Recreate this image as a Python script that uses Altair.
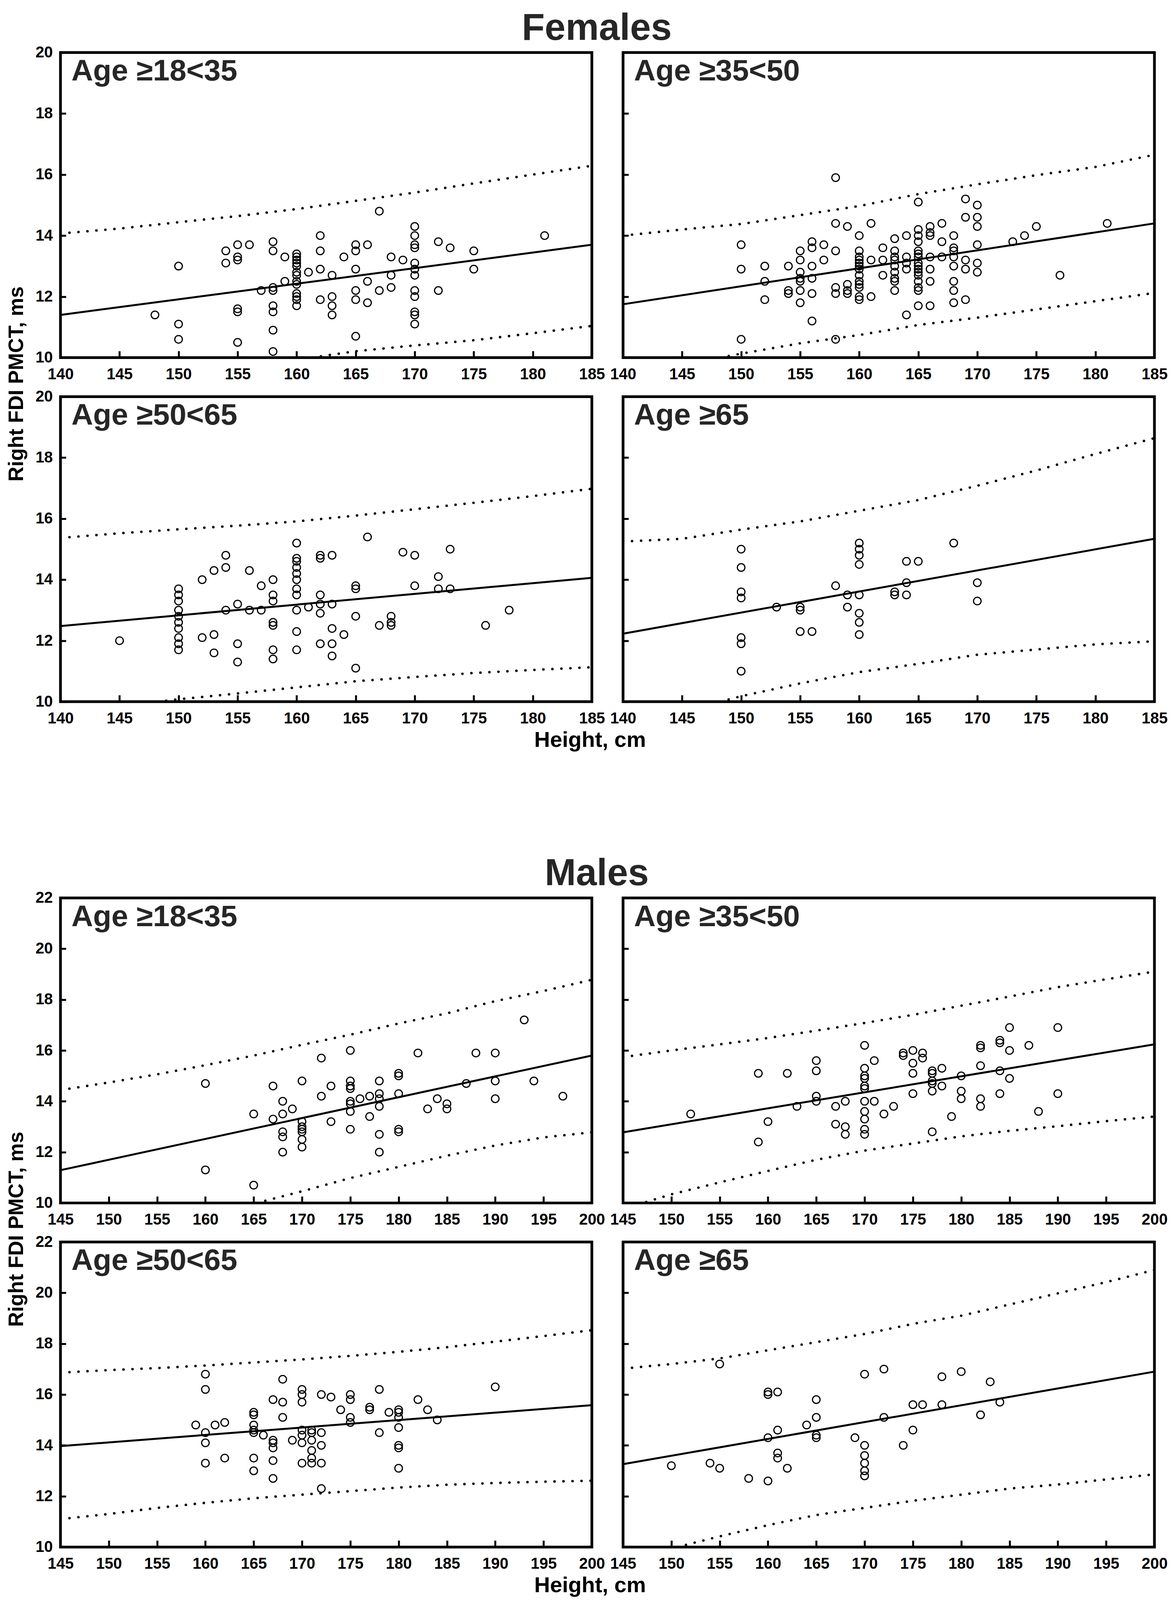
import altair as alt
import pandas as pd

FONT = "Liberation Sans"
INK = "#262626"
W, H = 1362, 782

LABELS = ["Age \u226518<35", "Age \u226535<50", "Age \u226550<65", "Age \u226565"]
F_X_TICKS = list(range(140, 186, 5))
F_Y_TICKS = [10, 12, 14, 16, 18, 20]
M_X_TICKS = list(range(145, 201, 5))
M_Y_TICKS = [10, 12, 14, 16, 18, 20, 22]
F_XDOM, F_YDOM = [140, 185], [10, 20]
M_XDOM, M_YDOM = [145, 200], [10, 22]

# ---------------- Females: observed points, height -> PMCT values ----------------
F1 = {148: [11.4], 150: [13.0, 11.1, 10.6], 154: [13.5, 13.1],
      155: [13.7, 13.3, 13.2, 11.6, 11.5, 10.5], 156: [13.7], 157: [12.2],
      158: [13.8, 13.5, 12.3, 12.2, 11.7, 11.5, 10.9, 10.2], 159: [13.3, 12.5],
      160: [13.4, 13.3, 13.2, 13.1, 13.0, 12.8, 12.7, 12.5, 12.4, 12.1, 12.0, 11.9, 11.7],
      161: [12.8], 162: [14.0, 13.5, 12.9, 11.9], 163: [12.7, 12.0, 11.7, 11.4],
      164: [13.3], 165: [13.7, 13.5, 12.9, 12.2, 11.9, 10.7], 166: [13.7, 12.5, 11.8],
      167: [14.8, 12.2], 168: [13.3, 12.7, 12.3], 169: [13.2],
      170: [14.3, 14.0, 13.7, 13.6, 13.1, 12.9, 12.7, 12.2, 12.0, 11.5, 11.4, 11.1],
      172: [13.8, 12.2], 173: [13.6], 175: [13.5, 12.9], 181: [14.0]}
F2 = {150: [13.7, 12.9, 10.6], 152: [13.0, 12.5, 11.9], 154: [13.0, 12.2, 12.1],
      155: [13.5, 13.2, 12.8, 12.6, 12.5, 12.2, 11.8], 156: [13.8, 13.6, 13.0, 12.6, 12.1, 11.2],
      157: [13.7, 13.2], 158: [15.9, 14.4, 13.5, 12.3, 12.1, 10.6], 159: [14.3, 12.4, 12.2, 12.1],
      160: [14.0, 13.5, 13.3, 13.2, 13.1, 13.0, 12.9, 12.7, 12.5, 12.4, 12.3, 12.0, 11.9],
      161: [14.4, 13.2, 12.0], 162: [13.6, 13.2, 12.7],
      163: [13.9, 13.5, 13.3, 13.2, 13.0, 12.8, 12.6, 12.5, 12.2], 164: [14.0, 13.3, 13.1, 12.9, 11.4],
      165: [15.1, 14.2, 14.0, 13.8, 13.5, 13.4, 13.3, 13.1, 13.0, 12.9, 12.8, 12.7, 12.5, 12.3, 12.2, 11.7],
      166: [14.3, 14.1, 14.0, 13.3, 12.9, 12.5, 11.7], 167: [14.4, 13.8, 13.3],
      168: [14.0, 13.6, 13.5, 13.3, 13.0, 12.5, 12.2, 11.8], 169: [15.2, 14.6, 13.2, 12.9, 11.9],
      170: [15.0, 14.6, 14.3, 13.7, 13.1, 12.8], 173: [13.8], 174: [14.0], 175: [14.3],
      177: [12.7], 181: [14.4]}
F3 = {145: [12.0], 150: [13.7, 13.5, 13.3, 13.0, 12.8, 12.6, 12.4, 12.1, 11.9, 11.7],
      152: [14.0, 12.1], 153: [14.3, 12.2, 11.6], 154: [14.8, 14.4, 13.0], 155: [13.2, 11.9, 11.3],
      156: [14.3, 13.0], 157: [13.8, 13.0], 158: [14.0, 13.5, 13.3, 12.6, 12.5, 11.7, 11.4],
      160: [15.2, 14.7, 14.6, 14.4, 14.2, 14.0, 13.7, 13.5, 13.0, 12.3, 11.7], 161: [13.1],
      162: [14.8, 14.7, 13.5, 13.2, 12.9, 11.9], 163: [14.8, 13.2, 12.4, 11.9, 11.5], 164: [12.2],
      165: [13.8, 13.7, 12.8, 11.1], 166: [15.4], 167: [12.5], 168: [12.8, 12.6, 12.5],
      169: [14.9], 170: [14.8, 13.8], 172: [14.1, 13.7], 173: [15.0, 13.7], 176: [12.5], 178: [13.0]}
F4 = {150: [15.0, 14.4, 13.6, 13.4, 12.1, 11.9, 11.0], 153: [13.1], 155: [13.1, 13.0, 12.3],
      156: [12.3], 158: [13.8], 159: [13.5, 13.1],
      160: [15.2, 15.0, 14.8, 14.5, 13.5, 12.9, 12.6, 12.2], 163: [13.6, 13.5],
      164: [14.6, 13.9, 13.5], 165: [14.6], 168: [15.2], 170: [13.9, 13.3]}

# ---------------- Males: observed points ----------------
M1 = {160: [14.7, 11.3], 165: [13.5, 10.7], 167: [14.6, 13.3], 168: [14.0, 13.5, 12.8, 12.6, 12.0],
      169: [13.7], 170: [14.8, 13.2, 13.0, 12.9, 12.8, 12.5, 12.2], 172: [15.7, 14.2], 173: [14.6, 13.2],
      175: [16.0, 14.8, 14.6, 14.5, 14.0, 13.9, 13.6, 12.9], 176: [14.1], 177: [14.2, 13.4],
      178: [14.8, 14.3, 14.1, 13.8, 12.7, 12.0], 180: [15.1, 15.0, 14.3, 12.9, 12.8], 182: [15.9],
      183: [13.7], 184: [14.1], 185: [13.9, 13.7], 187: [14.7], 188: [15.9], 190: [15.9, 14.8, 14.1],
      193: [17.2], 194: [14.8], 197: [14.2]}
M2 = {152: [13.5], 159: [15.1, 12.4], 160: [13.2], 162: [15.1], 163: [13.8], 165: [15.6, 15.2, 14.2, 14.0],
      167: [13.8, 13.1], 168: [14.0, 13.0, 12.7],
      170: [16.2, 15.3, 15.0, 14.9, 14.6, 14.5, 14.0, 13.6, 13.3, 12.9, 12.7], 171: [15.6, 14.0],
      172: [13.5], 173: [13.8], 174: [15.9, 15.8], 175: [16.0, 15.5, 15.1, 14.3], 176: [15.9, 15.7],
      177: [15.2, 15.1, 14.8, 14.7, 14.4, 12.8], 178: [15.3, 14.6], 179: [13.4], 180: [15.0, 14.4, 14.1],
      182: [16.2, 16.1, 15.4, 14.1, 13.8], 184: [16.4, 16.3, 15.2, 14.3], 185: [16.9, 16.0, 14.9],
      187: [16.2], 188: [13.6], 190: [16.9, 14.3]}
M3 = {159: [14.8], 160: [16.8, 16.2, 14.5, 14.1, 13.3], 161: [14.8], 162: [14.9, 13.5],
      165: [15.3, 15.2, 14.8, 14.6, 14.5, 13.5, 13.0], 166: [14.4],
      167: [15.8, 14.2, 14.1, 13.9, 13.4, 12.7], 168: [16.6, 15.7, 15.1], 169: [14.2],
      170: [16.2, 16.0, 15.7, 14.6, 14.4, 14.1, 13.3], 171: [14.6, 14.5, 14.2, 13.8, 13.5, 13.3],
      172: [16.0, 14.5, 14.0, 13.3, 12.3], 173: [15.9], 174: [15.4], 175: [16.0, 15.8, 15.1, 14.9],
      177: [15.5, 15.4], 178: [16.2, 14.5], 179: [15.3],
      180: [15.4, 15.3, 15.1, 14.7, 14.0, 13.9, 13.1], 182: [15.8], 183: [15.4], 184: [15.0], 190: [16.3]}
M4 = {150: [13.2], 154: [13.3], 155: [17.2, 13.1], 158: [12.7], 160: [16.1, 16.0, 14.3, 12.6],
      161: [16.1, 14.6, 13.7, 13.5], 162: [13.1], 164: [14.8], 165: [15.8, 15.1, 14.4, 14.3],
      169: [14.3], 170: [16.8, 14.0, 13.6, 13.3, 13.0, 12.8], 172: [17.0, 15.1], 174: [14.0],
      175: [15.6, 14.6], 176: [15.6], 178: [16.7, 15.6], 180: [16.9], 182: [15.2], 183: [16.5], 184: [15.7]}

# ---------------- regression lines (values at the x-domain ends) ----------------
F1_FIT, F2_FIT, F3_FIT, F4_FIT = [11.4, 13.7], [11.75, 14.4], [12.48, 14.06], [12.23, 15.34]
M1_FIT, M2_FIT, M3_FIT, M4_FIT = [11.29, 15.8], [12.78, 16.24], [13.97, 15.58], [13.26, 16.9]

# ---------------- prediction bands (dotted), read at the tick heights ----------------
F1_UP = [14.07, 14.23, 14.44, 14.64, 14.87, 15.14, 15.41, 15.71, 16.0, 16.29]
F2_UP = [14.0, 14.2, 14.38, 14.67, 14.97, 15.36, 15.68, 15.98, 16.25, 16.65]
F3_UP = [15.37, 15.52, 15.65, 15.77, 15.91, 16.1, 16.31, 16.52, 16.74, 16.98]
F4_UP = [15.25, 15.34, 15.64, 15.91, 16.26, 16.61, 17.08, 17.58, 18.12, 18.64]
F1_LO_X, F1_LO = [161.3, 165, 170, 175, 180, 185], [10.0, 10.21, 10.4, 10.57, 10.8, 11.04]
F2_LO_X, F2_LO = [148.2, 150, 155, 160, 165, 170, 175, 180, 185], [10.0, 10.13, 10.47, 10.74, 11.07, 11.31, 11.58, 11.85, 12.12]
F3_LO_X, F3_LO = [148.2, 150, 155, 160, 165, 170, 175, 180, 185], [10.0, 10.08, 10.27, 10.47, 10.67, 10.81, 10.94, 11.04, 11.13]
F4_LO_X, F4_LO = [148.2, 150, 155, 160, 165, 170, 175, 180, 185], [10.0, 10.18, 10.6, 10.97, 11.24, 11.54, 11.71, 11.88, 11.98]

M1_UP = [14.44, 14.74, 15.06, 15.42, 15.8, 16.22, 16.62, 17.06, 17.46, 17.94, 18.34, 18.78]
M2_UP = [15.74, 16.0, 16.24, 16.49, 16.78, 17.08, 17.4, 17.76, 18.12, 18.49, 18.8, 19.1]
M3_UP = [16.86, 16.96, 17.04, 17.14, 17.26, 17.38, 17.52, 17.68, 17.86, 18.08, 18.3, 18.53]
M4_UP = [17.02, 17.2, 17.42, 17.74, 18.06, 18.38, 18.78, 19.1, 19.54, 19.98, 20.42, 20.9]
M1_LO_X, M1_LO = [165.3, 170, 175, 180, 185, 190, 195, 200], [10.0, 10.46, 10.98, 11.42, 11.86, 12.26, 12.58, 12.78]
M2_LO_X = [147.4, 150, 155, 160, 165, 170, 175, 180, 185, 190, 195, 200]
M2_LO = [10.04, 10.34, 10.81, 11.26, 11.7, 12.06, 12.34, 12.62, 12.84, 13.02, 13.22, 13.4]
M3_LO_X = M_X_TICKS
M3_LO = [11.1, 11.3, 11.54, 11.74, 11.92, 12.06, 12.2, 12.34, 12.45, 12.52, 12.57, 12.61]
M4_LO_X = [150.6, 155, 160, 165, 170, 175, 180, 185, 190, 195, 200]
M4_LO = [10.0, 10.42, 10.86, 11.26, 11.54, 11.82, 12.06, 12.3, 12.46, 12.66, 12.86]


def panel(pts, fit, up, lo_x, lo, label, xdom, xticks, ydom, yticks, col, row):
    hs, ts = [], []
    for k, vals in pts.items():
        for v in vals:
            hs.append(k)
            ts.append(v)
    pts_df = pd.DataFrame({"h": hs, "t": ts})
    fit_df = pd.DataFrame({"h": xdom, "t": fit})
    up_df = pd.DataFrame({"h": xticks, "t": up})
    lo_df = pd.DataFrame({"h": lo_x, "t": lo})

    xkw = dict(values=xticks, domain=False, grid=False, tickSize=17, tickWidth=5,
               tickColor="black", offset=-17, labelFontSize=40, labelFont=FONT,
               labelFontWeight="bold", labelColor="black", labelPadding=23,
               labelFlush=False, labelOverlap=False, format="d")
    if row == 1 and col == 0:
        xkw.update(title="Height, cm", titleFontSize=56, titleFont=FONT, titleFontWeight="bold",
                   titleColor="black", titleX=W - 5, titleY=132, titleBaseline="alphabetic",
                   titleAlign="center")
    else:
        xkw.update(title=None)

    ykw = dict(values=yticks, domain=False, grid=False, tickSize=14, tickWidth=5,
               tickColor="black", offset=-14, labelFontSize=40, labelFont=FONT,
               labelFontWeight="bold", labelColor="black", labelPadding=20,
               labelFlush=False, labelOverlap=False, labels=(col == 0), format="d")
    if row == 0 and col == 0:
        ykw.update(title="Right FDI PMCT, ms", titleFontSize=53, titleFont=FONT,
                   titleFontWeight="bold", titleColor="black", titleAngle=270,
                   titleX=-110, titleY=849, titleBaseline="alphabetic", titleAlign="center")
    else:
        ykw.update(title=None)

    X = alt.X("h:Q", scale=alt.Scale(domain=xdom, nice=False, zero=False), axis=alt.Axis(**xkw))
    Y = alt.Y("t:Q", scale=alt.Scale(domain=ydom, nice=False, zero=False), axis=alt.Axis(**ykw))

    dotted = dict(color="black", strokeWidth=6.5, strokeDash=[0.1, 23], strokeCap="round", clip=True)
    up_l = alt.Chart(up_df).mark_line(**dotted).encode(x=X, y=Y)
    lo_l = alt.Chart(lo_df).mark_line(**dotted).encode(x=X, y=Y)
    fit_l = alt.Chart(fit_df).mark_line(color="black", strokeWidth=5, clip=True).encode(x=X, y=Y)
    pts_l = alt.Chart(pts_df).mark_point(shape="circle", filled=False, size=380, strokeWidth=3,
                                         color="black", opacity=1).encode(x=X, y=Y)
    txt = alt.Chart(pd.DataFrame({"label": [label]})).mark_text(
        align="left", baseline="alphabetic", fontSize=77, font=FONT, fontWeight="bold", color=INK
    ).encode(x=alt.value(28), y=alt.value(72), text="label:N")
    return alt.layer(up_l, lo_l, fit_l, pts_l, txt).properties(width=W, height=H)


def block(title, sets, xdom, xticks, ydom, yticks):
    panels = []
    for i, (pts, fit, up, lo_x, lo) in enumerate(sets):
        panels.append(panel(pts, fit, up, lo_x, lo, LABELS[i], xdom, xticks, ydom, yticks,
                            i % 2, i // 2))
    return alt.concat(
        *panels, columns=2, spacing={"row": 100, "column": 80}, bounds="flush",
        title=alt.TitleParams(text=title, fontSize=96, font=FONT, fontWeight="bold", color=INK,
                              anchor="middle", frame="bounds", dx=25, offset=-87,
                              baseline="alphabetic"),
    )


fem = block("Females", [(F1, F1_FIT, F1_UP, F1_LO_X, F1_LO), (F2, F2_FIT, F2_UP, F2_LO_X, F2_LO),
                        (F3, F3_FIT, F3_UP, F3_LO_X, F3_LO), (F4, F4_FIT, F4_UP, F4_LO_X, F4_LO)],
            F_XDOM, F_X_TICKS, F_YDOM, F_Y_TICKS)
mal = block("Males", [(M1, M1_FIT, M1_UP, M1_LO_X, M1_LO), (M2, M2_FIT, M2_UP, M2_LO_X, M2_LO),
                      (M3, M3_FIT, M3_UP, M3_LO_X, M3_LO), (M4, M4_FIT, M4_UP, M4_LO_X, M4_LO)],
            M_XDOM, M_X_TICKS, M_YDOM, M_Y_TICKS)

chart = alt.vconcat(fem, mal, spacing=263).properties(
    padding={"left": 5, "top": 14, "right": 0, "bottom": 0},
    background="white",
).configure_view(stroke="black", strokeWidth=7)

chart.save("out.html", embed_options={"renderer": "svg", "actions": False})
